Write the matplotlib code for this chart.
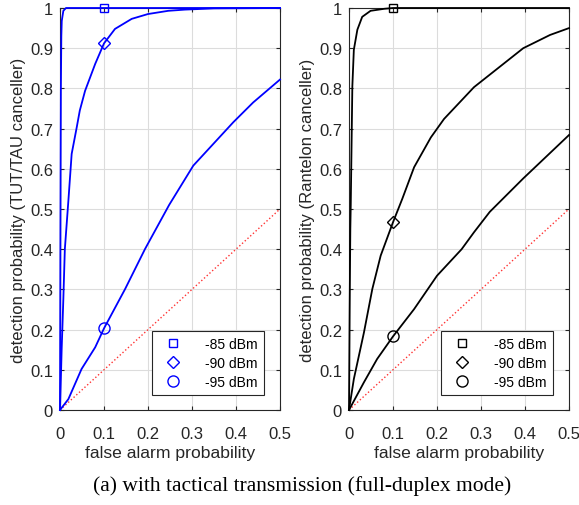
import numpy as np
import matplotlib
matplotlib.use("Agg")
import matplotlib.pyplot as plt
from matplotlib.lines import Line2D

plt.rcParams['font.family'] = ['Liberation Sans', 'DejaVu Sans']

# ROC curves (false alarm prob, detection prob)
tut_85_x = [0, 0.001, 0.002, 0.003, 0.004, 0.0076, 0.0136, 0.1, 0.5]
tut_85_y = [0, 0.45, 0.8, 0.93, 0.968, 0.993, 1.0, 1.0, 1.0]
tut_90_x = [0, 0.0038, 0.0076, 0.011, 0.019, 0.0265, 0.038, 0.045, 0.057, 0.08, 0.1,
            0.125, 0.163, 0.2, 0.246, 0.284, 0.35, 0.5]
tut_90_y = [0, 0.152, 0.276, 0.40, 0.52, 0.637, 0.703, 0.745, 0.794, 0.861, 0.912,
            0.948, 0.973, 0.985, 0.993, 0.996, 0.999, 1.0]
tut_95_x = [0, 0.019, 0.049, 0.08, 0.1, 0.148, 0.193, 0.248, 0.303, 0.394, 0.439, 0.5]
tut_95_y = [0, 0.027, 0.102, 0.156, 0.203, 0.301, 0.40, 0.51, 0.608, 0.716, 0.765, 0.822]

ran_85_x = [0, 0.0015, 0.003, 0.004, 0.0076, 0.011, 0.019, 0.030, 0.049, 0.08, 0.1, 0.5]
ran_85_y = [0, 0.25, 0.45, 0.512, 0.805, 0.896, 0.946, 0.978, 0.993, 0.998, 1.0, 1.0]
ran_90_x = [0, 0.011, 0.034, 0.053, 0.072, 0.1, 0.121, 0.148, 0.186, 0.216, 0.284,
            0.396, 0.457, 0.5]
ran_90_y = [0, 0.077, 0.193, 0.301, 0.384, 0.467, 0.525, 0.604, 0.678, 0.724, 0.803,
            0.90, 0.933, 0.95]
ran_95_x = [0, 0.034, 0.064, 0.1, 0.148, 0.2, 0.256, 0.284, 0.32, 0.396, 0.5]
ran_95_y = [0, 0.069, 0.127, 0.183, 0.251, 0.334, 0.40, 0.442, 0.493, 0.576, 0.684]

levels = ['-85 dBm', '-90 dBm', '-95 dBm']
markers = ['s', 'D', 'o']
marker_sizes = [6, 6.5, 8]
mark_at = 0.1

fig = plt.figure(figsize=(5.79, 5.06), dpi=100)
ax1 = fig.add_axes([60 / 579, 95 / 506, 220 / 579, 402 / 506])
ax2 = fig.add_axes([349 / 579, 95 / 506, 220 / 579, 402 / 506])

panels = [
    (ax1, 'blue', [(tut_85_x, tut_85_y), (tut_90_x, tut_90_y), (tut_95_x, tut_95_y)],
     'detection probability (TUT/TAU canceller)'),
    (ax2, 'black', [(ran_85_x, ran_85_y), (ran_90_x, ran_90_y), (ran_95_x, ran_95_y)],
     'detection probability (Rantelon canceller)'),
]

for ax, color, curves, ylabel in panels:
    ax.plot([0, 0.5], [0, 0.5], ':', color='red', lw=1.0, alpha=0.8)
    handles = []
    for (xs, ys), mk, ms, lab in zip(curves, markers, marker_sizes, levels):
        ax.plot(xs, ys, color=color, lw=1.3, clip_on=False, zorder=3)
        ym = np.interp(mark_at, xs, ys)
        ax.plot([mark_at], [ym], mk, color=color, mfc='none', ms=ms, mew=1.0,
                clip_on=False, zorder=4)
        handles.append(Line2D([], [], ls='none', marker=mk, color=color,
                              mfc='none', ms=ms, mew=1.0, label=lab))
    ax.set_xlim(0, 0.5)
    ax.set_ylim(0, 1)
    ax.set_xticks(np.arange(0, 0.51, 0.1))
    ax.set_yticks(np.arange(0, 1.01, 0.1))
    ax.set_xticklabels(['0', '0.1', '0.2', '0.3', '0.4', '0.5'])
    ax.set_yticklabels(['0'] + ['%.1f' % v for v in np.arange(0.1, 0.95, 0.1)] + ['1'])
    ax.grid(True, color='#dcdcdc', lw=0.8)
    ax.set_axisbelow(True)
    ax.tick_params(direction='in', top=True, right=True, length=3,
                   labelsize=12, colors='#262626')
    ax.tick_params(axis='x', pad=11.5)
    ax.tick_params(axis='y', pad=5)
    for sp in ax.spines.values():
        sp.set_color('#262626')
        sp.set_linewidth(0.8)
    ax.set_xlabel('false alarm probability', fontsize=12.6, color='#262626', labelpad=3)
    ax.set_ylabel(ylabel, fontsize=12, color='#262626', labelpad=2.5)
    leg = ax.legend(handles=handles, loc='lower right', bbox_to_anchor=(0.927, 0.037),
                    fontsize=10, frameon=True, fancybox=False, framealpha=1,
                    edgecolor='#262626', handlelength=2.2, handletextpad=1.2,
                    borderpad=0.45, labelspacing=0.35, borderaxespad=0)
    leg.get_frame().set_linewidth(0.8)

fig.text(302 / 579, 1 - 486 / 506, '(a) with tactical transmission (full-duplex mode)',
         ha='center', va='center', fontsize=15.5, family=['Liberation Serif', 'DejaVu Serif'])

fig.savefig('out.png', dpi=100)
